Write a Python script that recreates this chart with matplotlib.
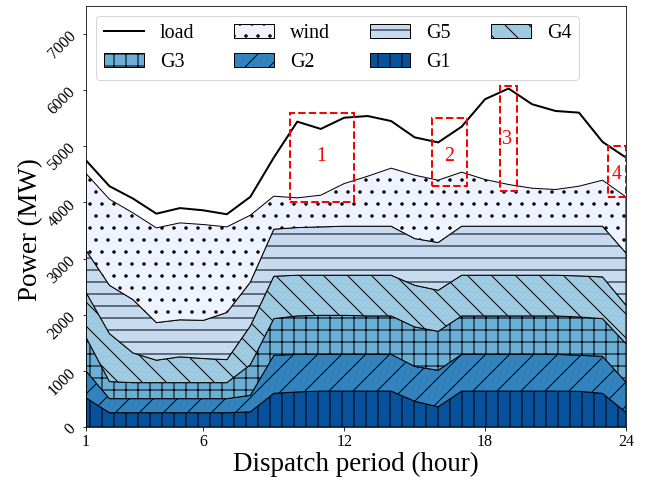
import numpy as np
import matplotlib
matplotlib.use('Agg')
import matplotlib.pyplot as plt
from matplotlib.patches import Rectangle

plt.rcParams['font.family'] = ['Liberation Serif', 'DejaVu Serif']

# ---------------- data (MW) ----------------
hours = np.arange(1, 25)

load = [4750, 4290, 4070, 3800, 3900, 3860, 3790, 4100, 4800, 5440, 5310, 5510,
        5540, 5450, 5160, 5070, 5350, 5840, 6030, 5750, 5630, 5600, 5080, 4800]

G1 = [520, 255, 255, 255, 255, 255, 255, 270, 600, 625, 640, 640,
      640, 640, 460, 360, 640, 640, 640, 640, 640, 636, 600, 260]
G2 = [480, 250, 250, 250, 250, 250, 250, 295, 677, 670, 655, 655,
      655, 655, 620, 650, 655, 655, 655, 655, 655, 642, 660, 540]
G3 = [600, 305, 285, 285, 285, 285, 285, 545, 654, 684, 695, 695,
      684, 684, 703, 695, 684, 684, 684, 684, 684, 682, 671, 685]
G4 = [800, 854, 530, 400, 460, 430, 410, 690, 755, 725, 714, 714,
      725, 725, 742, 731, 725, 725, 725, 725, 725, 732, 743, 685]
G5 = [750, 861, 950, 670, 660, 680, 840, 780, 838, 849, 861, 873,
      873, 873, 832, 850, 873, 873, 873, 873, 873, 885, 903, 930]
wind = [1366, 1533, 1545, 1687, 1726, 1707, 1525, 1193, 588, 529, 565, 760,
        891, 1034, 1129, 1111, 963, 832, 743, 677, 654, 713, 820, 1000]

# highlighted periods: (x, y, width, height), label position
boxes = [(9.7, 4000, 2.73, 1600), (15.74, 4300, 1.49, 1210),
         (18.62, 4200, 0.74, 1880), (23.23, 4100, 0.77, 910)]
box_labels = ['1', '2', '3', '4']
box_label_xy = [(11.0, 4820), (16.45, 4820), (18.95, 5130), (23.6, 4500)]

# ---------------- plot ----------------
layers = [G1, G2, G3, G4, G5, wind]
names = ['G1', 'G2', 'G3', 'G4', 'G5', 'wind']
colors = ['#08519c', '#3182bd', '#6baed6', '#9ecae1', '#c6dbef', '#eff3ff']
hatches = ['|', '/', '+', '\\', '-', '.']

fig = plt.figure(figsize=(645 / 72, 480 / 72), dpi=72)
ax = fig.add_axes([0.1333, 0.1104, 0.8372, 0.8771])

handles = {}
base = np.zeros(len(hours))
for vals, name, c, h in zip(layers, names, colors, hatches):
    top = base + np.array(vals)
    handles[name] = ax.fill_between(hours, base, top, facecolor=c, edgecolor='k',
                                    hatch=h, linewidth=1, label=name)
    base = top

handles['load'], = ax.plot(hours, load, 'k-', lw=2, label='load')

for (x, y, w, hgt), lab, (tx, ty) in zip(boxes, box_labels, box_label_xy):
    ax.add_patch(Rectangle((x, y), w, hgt, fill=False, edgecolor='red',
                           linestyle='--', linewidth=2, zorder=5))
    ax.text(tx, ty, lab, color='red', fontsize=20, ha='center', va='center', zorder=6)

ax.set_xlim(1, 24)
ax.set_ylim(0, 7500)
ax.set_xticks([1, 6, 12, 18, 24])
ax.set_yticks(np.arange(0, 7001, 1000))
ax.tick_params(axis='both', labelsize=16)
plt.setp(ax.get_yticklabels(), rotation=45)
ax.set_xlabel('Dispatch period (hour)', fontsize=27, labelpad=2)
ax.set_ylabel('Power (MW)', fontsize=27)
ax.yaxis.set_label_coords(-0.08, 0.47)

# column-major order so rows read: load wind G5 G4 / G3 G2 G1
order = ['load', 'G3', 'wind', 'G2', 'G5', 'G1', 'G4']
ax.legend([handles[k] for k in order], order, ncol=4, loc='upper left', fontsize=20)

fig.savefig('out.png', dpi=72)
